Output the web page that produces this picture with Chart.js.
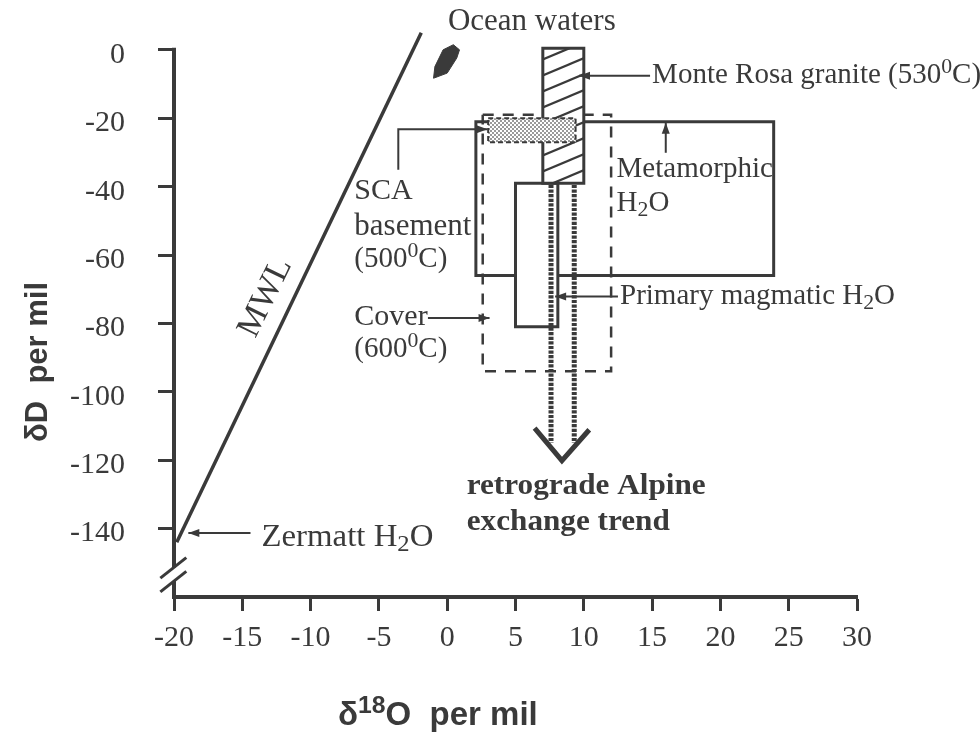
<!DOCTYPE html>
<html>
<head>
<meta charset="utf-8">
<script src="https://cdn.jsdelivr.net/npm/chart.js@4.4.0/dist/chart.umd.min.js"></script>
<style>
  html, body { margin: 0; padding: 0; background: #fff; }
  #wrap { width: 980px; height: 734px; }
</style>
</head>
<body>
<div id="wrap"><canvas id="chart" width="980" height="734"></canvas></div>
<script>
const ink = '#3a3a3a';

const xTicks = [-20, -15, -10, -5, 0, 5, 10, 15, 20, 25, 30];
const yTicks = [0, -20, -40, -60, -80, -100, -120, -140];

// meteoric water line (d18O, dD end points)
const mwlO18 = [-19.8, -1.9];
const mwlD = [-144, 5];

// ocean water field
const oceanO18 = [-1.0, -0.9, -0.3, 0.45, 0.9, 0.7, 0.0, -1.0];
const oceanD = [-8.3, -4.9, 0, 1.5, 0, -2.4, -6.8, -8.3];

// fields as [min, max] ranges
const metamorphicO18 = [2.1, 23.9];
const metamorphicD = [-21, -66];
const coverO18 = [2.6, 12];
const coverD = [-19, -94];
const magmaticO18 = [5, 8.1];
const magmaticD = [-39, -81];
const monteRosaO18 = [7, 10];
const monteRosaD = [0.5, -39];
const scaO18 = [3, 9.4];
const scaD = [-20, -27];

// retrograde exchange trend: two dotted paths and the arrow head
const trendO18 = [7.6, 9.3];
const trendD = [-39.5, -115];
const arrowO18 = [6.4, 8.4, 10.4];
const arrowD = [-110.6, -120.1, -111.1];

const pairs = (xs, ys) => xs.map((x, i) => ({ x, y: ys[i] }));
const rect = (xs, ys) => pairs([xs[0], xs[1], xs[1], xs[0], xs[0]], [ys[0], ys[0], ys[1], ys[1], ys[0]]);

const makeHatch = () => {
  const w = 38, h = 16;
  const c = document.createElement('canvas');
  c.width = w; c.height = h;
  const g = c.getContext('2d');
  g.fillStyle = '#fff';
  g.fillRect(0, 0, w, h);
  g.strokeStyle = ink;
  g.lineWidth = 2.2;
  for (const off of [-h, 0, h]) {
    g.beginPath();
    g.moveTo(-w, 2 * h + off);
    g.lineTo(2 * w, -h + off);
    g.stroke();
  }
  return g.createPattern(c, 'repeat');
};

const makeStipple = () => {
  const c = document.createElement('canvas');
  c.width = 4; c.height = 4;
  const g = c.getContext('2d');
  g.fillStyle = '#fff';
  g.fillRect(0, 0, 4, 4);
  g.fillStyle = '#9a9a9a';
  g.fillRect(0, 0, 2, 2);
  g.fillRect(2, 2, 2, 2);
  return g.createPattern(c, 'repeat');
};

const base = { showLine: true, pointRadius: 0, tension: 0, clip: false, borderColor: ink, fill: false };

// text with ^{..} superscripts and _{..} subscripts
function richText(ctx, x, y, str, size, weight, family) {
  let cx = x;
  for (const part of str.split(/(\^\{[^}]*\}|_\{[^}]*\})/)) {
    if (!part) continue;
    const sup = part.startsWith('^{');
    const sub = part.startsWith('_{');
    const t = sup || sub ? part.slice(2, -1) : part;
    const s = sup || sub ? size * 0.75 : size;
    ctx.font = `${weight} ${s}px ${family}`;
    const dy = sup ? -size * 0.3 : sub ? size * 0.25 : 0;
    ctx.fillText(t, cx, y + dy);
    cx += ctx.measureText(t).width;
  }
  return cx - x;
}

function arrowHead(ctx, x0, y0, x1, y1, len = 11, half = 4) {
  const a = Math.atan2(y1 - y0, x1 - x0);
  ctx.beginPath();
  ctx.moveTo(x1, y1);
  ctx.lineTo(x1 - len * Math.cos(a) + half * Math.sin(a), y1 - len * Math.sin(a) - half * Math.cos(a));
  ctx.lineTo(x1 - len * Math.cos(a) - half * Math.sin(a), y1 - len * Math.sin(a) + half * Math.cos(a));
  ctx.closePath();
  ctx.fill();
}

const notes = [
  { text: 'Ocean waters', x: 0.05, y: 8.2, size: 31 },
  { text: 'Monte Rosa granite (530^{0}C)', x: 15.0, y: -7.6 },
  { text: 'Metamorphic', x: 12.4, y: -35.1 },
  { text: 'H_{2}O', x: 12.4, y: -44.8 },
  { text: 'SCA', x: -6.8, y: -41.4, size: 30 },
  { text: 'basement', x: -6.8, y: -51.7, size: 31 },
  { text: '(500^{0}C)', x: -6.8, y: -61.4 },
  { text: 'Cover', x: -6.8, y: -78.2, size: 30 },
  { text: '(600^{0}C)', x: -6.8, y: -87.7 },
  { text: 'Primary magmatic H_{2}O', x: 12.65, y: -72.1 },
  { text: 'Zermatt H_{2}O', x: -13.6, y: -142.6, size: 31, stretch: 1.06 },
  { text: 'retrograde Alpine', x: 1.43, y: -127.7, size: 30, bold: true, stretch: 1.04 },
  { text: 'exchange trend', x: 1.43, y: -138.0, size: 30, bold: true, stretch: 1.04 },
];

const leaders = [
  [[14.85, -7.6], [9.65, -7.6]],
  [[16.0, -30.1], [16.0, -21.3]],
  [[-3.58, -35.1], [-3.58, -23.2], [2.95, -23.2]],
  [[-1.41, -78.4], [3.1, -78.4]],
  [[12.5, -72.1], [7.9, -72.1]],
  [[-14.4, -141.3], [-18.95, -141.3]],
];

const annotate = {
  id: 'annotate',
  afterDatasetsDraw(chart) {
    const { ctx, chartArea } = chart;
    const sx = chart.scales.x, sy = chart.scales.y;
    const px = (v) => sx.getPixelForValue(v);
    const py = (v) => sy.getPixelForValue(v);
    ctx.save();
    ctx.strokeStyle = ink;
    ctx.fillStyle = ink;

    // y axis line with a break near the bottom
    const ax = chartArea.left;
    const s1 = [[-21.0, -154.5], [-19.1, -148.5]];
    const s2 = [[-21.0, -158.5], [-19.1, -152.5]];
    const cut = (s) => {
      const t = (ax - px(s[0][0])) / (px(s[1][0]) - px(s[0][0]));
      return py(s[0][1]) + t * (py(s[1][1]) - py(s[0][1]));
    };
    ctx.lineWidth = 4;
    ctx.beginPath();
    ctx.moveTo(ax, py(0) - 2);
    ctx.lineTo(ax, cut(s1));
    ctx.moveTo(ax, cut(s2));
    ctx.lineTo(ax, chartArea.bottom + 2);
    ctx.stroke();
    ctx.lineWidth = 3;
    for (const s of [s1, s2]) {
      ctx.beginPath();
      ctx.moveTo(px(s[0][0]), py(s[0][1]));
      ctx.lineTo(px(s[1][0]), py(s[1][1]));
      ctx.stroke();
    }

    // leader lines with arrow heads at the marks
    ctx.lineWidth = 2;
    for (const pts of leaders) {
      ctx.beginPath();
      pts.forEach(([x, y], i) => (i ? ctx.lineTo(px(x), py(y)) : ctx.moveTo(px(x), py(y))));
      ctx.stroke();
      const a = pts[pts.length - 2], b = pts[pts.length - 1];
      arrowHead(ctx, px(a[0]), py(a[1]), px(b[0]), py(b[1]));
    }

    // field labels
    ctx.textBaseline = 'middle';
    ctx.textAlign = 'left';
    for (const n of notes) {
      ctx.save();
      ctx.translate(px(n.x), py(n.y));
      ctx.scale(n.stretch || 1, 1);
      richText(ctx, 0, 0, n.text, n.size || 29, n.bold ? 'bold' : 'normal', '"Liberation Serif", serif');
      ctx.restore();
    }

    // MWL label along the line
    ctx.save();
    ctx.translate(px(-13.3), py(-72.5));
    ctx.rotate(-64 * Math.PI / 180);
    ctx.textAlign = 'center';
    ctx.font = '34px "Liberation Serif", serif';
    ctx.fillText('MWL', 0, 0);
    ctx.restore();

    // axis titles
    ctx.save();
    ctx.translate(38, 362);
    ctx.rotate(-Math.PI / 2);
    ctx.textAlign = 'center';
    ctx.font = 'bold 31px "Liberation Sans", sans-serif';
    ctx.fillText('\u03b4D  per mil', 0, 0);
    ctx.restore();
    ctx.textAlign = 'left';
    richText(ctx, 338, 716, '\u03b4^{18}O  per mil', 33, 'bold', '"Liberation Sans", sans-serif');
    ctx.restore();
  }
};

const tickFont = { family: '"Liberation Serif", serif', size: 30 };

new Chart(document.getElementById('chart'), {
  type: 'scatter',
  data: {
    datasets: [
      { ...base, label: 'MWL', data: pairs(mwlO18, mwlD), borderWidth: 3.5, order: 0 },
      { ...base, label: 'Ocean waters', data: pairs(oceanO18, oceanD), borderWidth: 1, fill: 'shape', backgroundColor: ink, order: 0 },
      { ...base, label: 'SCA basement', data: rect(scaO18, scaD), borderWidth: 2, borderDash: [5, 3], fill: 'shape', backgroundColor: makeStipple(), order: 1 },
      { ...base, label: 'Monte Rosa granite', data: rect(monteRosaO18, monteRosaD), borderWidth: 3, borderCapStyle: 'square', fill: 'shape', backgroundColor: makeHatch(), order: 2 },
      { ...base, label: 'trend a', data: pairs([trendO18[0], trendO18[0]], trendD), borderWidth: 5, borderDash: [3.2, 1.4], order: 3 },
      { ...base, label: 'trend b', data: pairs([trendO18[1], trendO18[1]], trendD), borderWidth: 5, borderDash: [3.2, 1.4], order: 3 },
      { ...base, label: 'trend arrow', data: pairs(arrowO18, arrowD), borderWidth: 5, order: 3 },
      { ...base, label: 'Primary magmatic', data: rect(magmaticO18, magmaticD), borderWidth: 3, borderCapStyle: 'square', fill: 'shape', backgroundColor: '#fff', order: 4 },
      { ...base, label: 'Cover', data: rect(coverO18, coverD), borderWidth: 2.5, borderDash: [11, 9], order: 5 },
      { ...base, label: 'Metamorphic', data: rect(metamorphicO18, metamorphicD), borderWidth: 3, borderCapStyle: 'square', order: 6 },
    ]
  },
  options: {
    responsive: false,
    animation: false,
    events: [],
    layout: { padding: { left: 0, right: 123, top: 43, bottom: 0 } },
    plugins: { legend: { display: false }, tooltip: { enabled: false } },
    scales: {
      x: {
        type: 'linear', min: -20, max: 30,
        afterBuildTicks: (axis) => { axis.ticks = xTicks.map((v) => ({ value: v })); },
        afterFit: (axis) => { axis.height = 137; },
        grid: { display: true, drawOnChartArea: false, drawTicks: true, tickLength: 14, tickWidth: 3, tickColor: ink },
        border: { display: true, width: 4, color: ink },
        ticks: { font: tickFont, color: ink, padding: 9, maxRotation: 0, autoSkip: false }
      },
      y: {
        type: 'linear', min: -160, max: 2,
        afterBuildTicks: (axis) => { axis.ticks = yTicks.map((v) => ({ value: v })); },
        afterFit: (axis) => {
          axis.width = 174;
          // labels sit well left of the ticks; keep that gap out of the plot margins
          axis.paddingTop = 0;
          axis.paddingBottom = 0;
        },
        grid: { display: true, drawOnChartArea: false, drawTicks: true, tickLength: 16, tickWidth: 3, tickColor: ink },
        border: { display: false },
        ticks: { font: tickFont, color: ink, padding: 33, labelOffset: 5, autoSkip: false }
      }
    }
  },
  plugins: [annotate]
});
</script>
</body>
</html>
